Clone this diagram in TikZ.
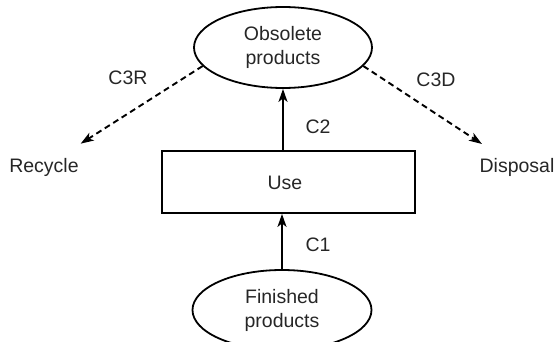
\documentclass[tikz,border=0pt]{standalone}
\usepackage{fontspec}
\setmainfont{Liberation Sans}
\usetikzlibrary{arrows.meta,shapes.geometric}

\begin{document}
\begin{tikzpicture}[x=1pt,y=1pt,
  font=\fontsize{19.5}{24}\selectfont,
  every node/.style={text=black!85},
  stage/.style={ellipse,draw=black,line width=1.8pt,align=center,inner sep=0pt},
  activity/.style={rectangle,draw=black,line width=1.8pt,minimum width=253pt,minimum height=62pt},
  flow/.style={line width=1.9pt,-{Stealth[length=13pt,width=9pt,inset=3.5pt]}},
  dashflow/.style={flow,dash pattern=on 6pt off 4pt},
  lbl/.style={inner sep=0pt}
]
  % canvas
  \useasboundingbox (0,0) rectangle (560,-342);

  % nodes
  \node[stage,minimum width=178pt,minimum height=81pt] (obs) at (283,-47.5) {Obsolete\\products};
  \node[activity] (use) at (288.5,-182) {};
  \node (usetxt) at (285,-183) {Use};
  \node[stage,minimum width=179pt,minimum height=80pt] (fin) at (282,-310) {Finished\\products};
  \node (rec) at (44,-167) {Recycle};
  \node (dis) at (517,-167) {Disposal};

  % main flow
  \draw[flow] (fin.north) -- (fin.north |- use.south);
  \draw[flow] (obs.south |- use.north) -- (obs.south);

  % end-of-life routes
  \draw[dashflow,shorten >=20pt] (obs.193) -- (rec);
  \draw[dashflow,shorten >=19pt] (obs.347) -- (dis);

  % connector labels
  \node[lbl] (c1) at (318,-245) {C1};
  \node[lbl] (c2) at (318,-127) {C2};
  \node[lbl] (c3r) at (128,-78) {C3R};
  \node[lbl] (c3d) at (436,-80) {C3D};
\end{tikzpicture}
\end{document}
